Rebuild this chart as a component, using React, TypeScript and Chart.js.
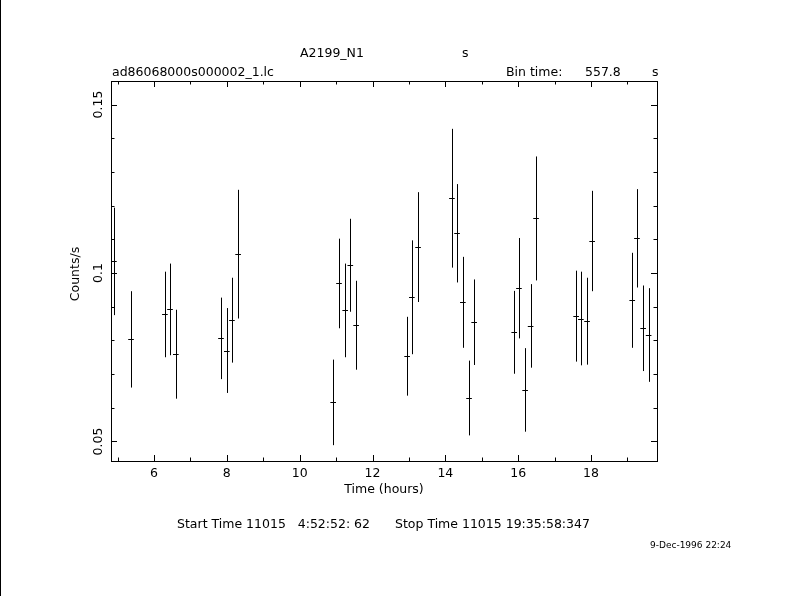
import { useEffect, useRef } from "react";
import { Chart, registerables } from "chart.js";

Chart.register(...registerables);

// Light-curve data
const timeHours = [4.90, 4.90, 5.37, 6.30, 6.44, 6.60, 7.84, 8.00, 8.14, 8.31, 10.92, 11.08, 11.25, 11.39, 11.55, 12.95, 13.08, 13.25, 14.18, 14.32, 14.48, 14.65, 14.79, 15.89, 16.02, 16.19, 16.34, 16.49, 17.59, 17.72, 17.89, 18.03, 19.13, 19.26, 19.43, 19.58];
const countRate = [0.1036, 0.0999, 0.0803, 0.0877, 0.0892, 0.0759, 0.0806, 0.0770, 0.0860, 0.1056, 0.0616, 0.0969, 0.0889, 0.1023, 0.0845, 0.0753, 0.0928, 0.1077, 0.1222, 0.1118, 0.0913, 0.0629, 0.0854, 0.0824, 0.0955, 0.0653, 0.0843, 0.1162, 0.0872, 0.0865, 0.0857, 0.1095, 0.0919, 0.1103, 0.0836, 0.0816];
const rateError = [0.0158, 0.0124, 0.0143, 0.0127, 0.0136, 0.0132, 0.0121, 0.0126, 0.0126, 0.0191, 0.0127, 0.0133, 0.0139, 0.0138, 0.0132, 0.0117, 0.0169, 0.0163, 0.0206, 0.0146, 0.0135, 0.0111, 0.0127, 0.0123, 0.0149, 0.0124, 0.0124, 0.0184, 0.0135, 0.0139, 0.0129, 0.0149, 0.0141, 0.0146, 0.0127, 0.0139];
const binTimeSec = 557.8;
const xTickLabels = ["6", "8", "10", "12", "14", "16", "18"];
const yTickLabels = ["0.05", "0.1", "0.15"];

const FONT = '"DejaVu Sans", sans-serif';

export default function App() {
  const ref = useRef<HTMLCanvasElement | null>(null);

  useEffect(() => {
    document.body.style.margin = "0";
    const canvas = ref.current;
    if (!canvas) return;
    const halfBin = binTimeSec / 2 / 3600;

    const drawPlugin = {
      id: "pgplotDecor",
      afterDatasetsDraw(chart: any) {
        const ctx = chart.ctx as CanvasRenderingContext2D;
        const xs = chart.scales.x;
        const ys = chart.scales.y;
        ctx.save();
        ctx.strokeStyle = "#000";
        ctx.lineWidth = 1;
        ctx.beginPath();
        for (let i = 0; i < timeHours.length; i++) {
          const px = Math.round(xs.getPixelForValue(timeHours[i])) + 0.5;
          const py = Math.round(ys.getPixelForValue(countRate[i])) + 0.5;
          const yTop = ys.getPixelForValue(countRate[i] + rateError[i]);
          const yBot = ys.getPixelForValue(countRate[i] - rateError[i]);
          const xL = xs.getPixelForValue(timeHours[i] - halfBin);
          const xR = xs.getPixelForValue(timeHours[i] + halfBin);
          ctx.moveTo(px, yTop);
          ctx.lineTo(px, yBot);
          ctx.moveTo(xL, py);
          ctx.lineTo(xR, py);
        }
        ctx.stroke();
        ctx.restore();
      },
      afterDraw(chart: any) {
        const ctx = chart.ctx as CanvasRenderingContext2D;
        const xs = chart.scales.x;
        const ys = chart.scales.y;
        const { left, right, top, bottom } = chart.chartArea;
        ctx.save();
        ctx.fillStyle = "#000";
        ctx.fillRect(0, 0, 1, chart.height);
        ctx.strokeStyle = "#000";
        ctx.lineWidth = 1;
        ctx.strokeRect(left + 0.5, top + 0.5, right - left, bottom - top);

        ctx.beginPath();
        // x ticks every hour, major every 2 h
        for (let h = Math.ceil(xs.min); h <= xs.max; h++) {
          const px = Math.round(xs.getPixelForValue(h)) + 0.5;
          const len = h % 2 === 0 ? 6 : 3.5;
          ctx.moveTo(px, bottom);
          ctx.lineTo(px, bottom - len);
          ctx.moveTo(px, top);
          ctx.lineTo(px, top + len);
        }
        // y ticks every 0.01, major every 0.05
        for (let k = 5; k <= 15; k++) {
          const v = k / 100;
          if (v < ys.min || v > ys.max) continue;
          const py = Math.round(ys.getPixelForValue(v)) + 0.5;
          const len = k % 5 === 0 ? 6 : 3.5;
          ctx.moveTo(left, py);
          ctx.lineTo(left + len, py);
          ctx.moveTo(right, py);
          ctx.lineTo(right - len, py);
        }
        ctx.stroke();

        ctx.font = "12.5px " + FONT;
        ctx.textBaseline = "middle";
        ctx.textAlign = "center";
        xTickLabels.forEach((t) => {
          ctx.fillText(t, xs.getPixelForValue(parseFloat(t)), bottom + 13);
        });
        yTickLabels.forEach((t) => {
          ctx.save();
          ctx.translate(left - 12, ys.getPixelForValue(parseFloat(t)));
          ctx.rotate(-Math.PI / 2);
          ctx.fillText(t, 0, 0);
          ctx.restore();
        });
        ctx.fillText("Time (hours)", (left + right) / 2, 490);
        ctx.save();
        ctx.translate(76, (top + bottom) / 2 + 3);
        ctx.rotate(-Math.PI / 2);
        ctx.fillText("Counts/s", 0, 0);
        ctx.restore();

        ctx.textAlign = "left";
        ctx.fillText("A2199_N1", 300, 54);
        ctx.fillText("s", 462, 54);
        ctx.fillText("ad86068000s000002_1.lc", 112, 73);
        ctx.fillText("Bin time:", 506, 73);
        ctx.fillText("557.8", 585, 73);
        ctx.fillText("s", 652, 73);
        ctx.fillText("Start Time 11015", 177, 525);
        ctx.textAlign = "right";
        ctx.fillText("4:52:52: 62", 370, 525);
        ctx.textAlign = "left";
        ctx.fillText("Stop Time 11015 19:35:58:347", 395, 525);
        ctx.font = "9px " + FONT;
        ctx.fillText("9-Dec-1996 22:24", 650, 546);
        ctx.restore();
      },
    };

    const chart = new Chart(canvas, {
      type: "scatter",
      data: {
        datasets: [
          {
            label: "A2199_N1",
            data: timeHours.map((t, i) => ({ x: t, y: countRate[i] })),
            pointRadius: 0,
            showLine: false,
          },
        ],
      },
      options: {
        animation: false,
        responsive: false,
        devicePixelRatio: 1,
        layout: { padding: { left: 111, right: 133, top: 81, bottom: 135 } },
        plugins: { legend: { display: false }, tooltip: { enabled: false }, title: { display: false } },
        scales: {
          x: { type: "linear", min: 4.82, max: 19.81, display: false },
          y: { type: "linear", min: 0.0442, max: 0.157, display: false },
        },
      },
      plugins: [drawPlugin],
    });
    return () => chart.destroy();
  }, []);

  return <canvas ref={ref} width={790} height={596} style={{ display: "block" }} />;
}
